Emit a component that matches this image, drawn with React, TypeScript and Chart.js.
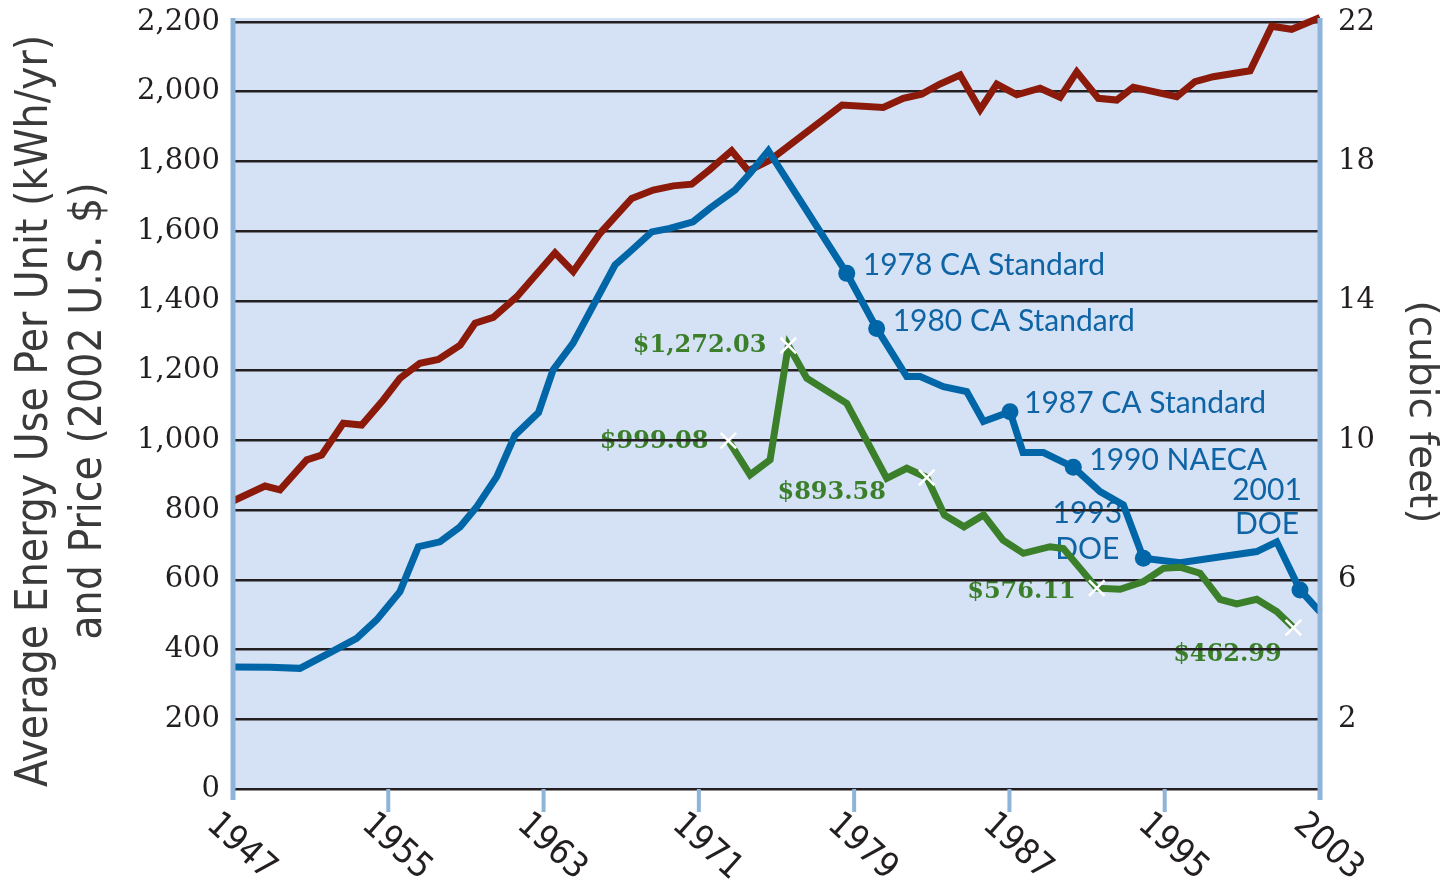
import React, { useEffect, useRef } from 'react';
import { Chart, registerables } from 'chart.js';

Chart.register(...registerables);

// Refrigerator size (cubic feet, right axis)
const sizeYears = [1947, 1948.65, 1949.42, 1950.8, 1951.57, 1952.68, 1953.63, 1954.74, 1955.6, 1956.63, 1957.58, 1958.7, 1959.47, 1960.41, 1961.62, 1963.59, 1964.53, 1965.91, 1967.54, 1968.65, 1969.68, 1970.63, 1971.57, 1972.69, 1973.55, 1974.67, 1978.38, 1980.5, 1981.53, 1982.48, 1983.42, 1984.46, 1985.49, 1986.35, 1987.38, 1988.58, 1989.61, 1990.47, 1991.58, 1992.53, 1993.38, 1995.62, 1996.56, 1997.5, 1999.4, 2000.51, 2001.54, 2003];
const sizeCubicFeet = [8.26, 8.69, 8.58, 9.44, 9.58, 10.49, 10.44, 11.16, 11.78, 12.21, 12.32, 12.73, 13.36, 13.53, 14.12, 15.38, 14.84, 15.94, 16.94, 17.18, 17.3, 17.35, 17.77, 18.31, 17.73, 18.04, 19.62, 19.55, 19.81, 19.93, 20.22, 20.48, 19.49, 20.22, 19.91, 20.1, 19.84, 20.57, 19.81, 19.76, 20.13, 19.86, 20.29, 20.43, 20.6, 21.88, 21.79, 22.13];

// Average energy use per unit (kWh/yr)
const useYears = [1947, 1948.91, 1950.45, 1952.0, 1953.37, 1954.4, 1955.6, 1956.55, 1957.66, 1958.7, 1959.56, 1960.59, 1961.53, 1962.74, 1963.49, 1964.52, 1966.68, 1967.45, 1968.57, 1969.5, 1970.7, 1971.57, 1972.86, 1973.64, 1974.58, 1978.62, 1980.16, 1981.71, 1982.4, 1983.6, 1984.8, 1985.66, 1987.03, 1987.7, 1988.75, 1990.29, 1991.67, 1992.87, 1993.9, 1995.79, 1999.74, 2000.77, 2001.97, 2003];
const energyUse = [350, 349, 346, 391, 432, 485, 566, 695, 709, 752, 810, 896, 1015, 1080, 1202, 1279, 1503, 1541, 1598, 1608, 1627, 1666, 1718, 1766, 1831, 1479, 1321, 1183, 1183, 1154, 1140, 1054, 1082, 965, 965, 923, 853, 815, 662, 649, 681, 709, 571, 508];

// Price (2002 U.S. $)
const priceYears = [1972.52, 1973.64, 1974.67, 1975.61, 1976.56, 1978.62, 1980.68, 1981.71, 1982.74, 1983.65, 1984.66, 1985.67, 1986.67, 1987.72, 1989.09, 1989.78, 1991.5, 1992.7, 1993.9, 1994.93, 1995.79, 1996.82, 1997.85, 1998.71, 1999.74, 2000.77, 2001.63];
const priceUsd = [999.08, 901, 944, 1272.03, 1178, 1106, 891, 920, 893.58, 786, 752, 786, 714, 676, 695, 690, 576.11, 573, 595, 633, 636, 619, 544, 531, 544, 509, 462.99];

const standardYears = [1978.62, 1980.16, 1987.03, 1990.29, 1993.9, 2001.97];
const standardLabels = ['1978 CA Standard', '1980 CA Standard', '1987 CA Standard', '1990 NAECA', '1993\nDOE', '2001\nDOE'];
const priceLabelYears = [1972.52, 1975.61, 1982.74, 1991.5, 2001.63];
const priceLabels = ['$999.08', '$1,272.03', '$893.58', '$576.11', '$462.99'];

const yearTicks = [1947, 1955, 1963, 1971, 1979, 1987, 1995, 2003];
const rightTicks = [2, 6, 10, 14, 18, 22];
const leftTitle = ['Average Energy Use Per Unit (kWh/yr)', 'and Price (2002 U.S. $)'];
const rightTitle = '(cubic feet)';

const RED = '#8B1A0A';
const BLUE = '#0066A8';
const GREEN = '#3B7F2B';
const BG = '#D5E2F5';
const AXIS_BLUE = '#8FB4D9';
const INK = '#231f20';

const STANDARD_LAYOUT = [
  { dx: 16, dy: -8, align: 'left', lh: 0 },
  { dx: 16, dy: -7, align: 'left', lh: 0 },
  { dx: 14, dy: -8, align: 'left', lh: 0 },
  { dx: 16, dy: -7, align: 'left', lh: 0 },
  { dx: -56, dy: -45, align: 'center', lh: 36 },
  { dx: -33, dy: -100, align: 'center', lh: 34 },
];
const PRICE_LAYOUT = [
  { dx: -20, dy: 1, align: 'right' },
  { dx: -22, dy: 0, align: 'right' },
  { dx: -95, dy: 15, align: 'center' },
  { dx: -21, dy: 4, align: 'right' },
  { dx: -66, dy: 27, align: 'center' },
];

const decorPlugin = {
  id: 'decor',
  beforeDraw(chart: any) {
    const { ctx, chartArea: a, scales } = chart;
    ctx.save();
    ctx.fillStyle = BG;
    ctx.fillRect(a.left, a.top - 4, a.right - a.left, a.bottom - a.top + 4);

    // annotation labels (beneath gridlines and lines)
    const xs = scales.x;
    const ys = scales.y;
    ctx.textBaseline = 'middle';
    ctx.fillStyle = '#0E64A5';
    ctx.font = '30px Lato, "Open Sans", sans-serif';
    standardYears.forEach((yr, i) => {
      const idx = useYears.indexOf(yr);
      const px = xs.getPixelForValue(yr);
      const py = ys.getPixelForValue(energyUse[idx]);
      const L = STANDARD_LAYOUT[i];
      ctx.textAlign = L.align;
      standardLabels[i].split('\n').forEach((line, j) => {
        ctx.fillText(line, px + L.dx, py + L.dy + j * L.lh);
      });
    });
    ctx.fillStyle = GREEN;
    ctx.font = 'bold 24px "DejaVu Serif", serif';
    priceLabelYears.forEach((yr, i) => {
      const idx = priceYears.indexOf(yr);
      const px = xs.getPixelForValue(yr);
      const py = ys.getPixelForValue(priceUsd[idx]);
      const L = PRICE_LAYOUT[i];
      ctx.textAlign = L.align;
      ctx.fillText(priceLabels[i], px + L.dx, py + L.dy);
    });
    ctx.restore();
  },
  afterDraw(chart: any) {
    const { ctx, chartArea: a, scales } = chart;
    const xs = scales.x;
    ctx.save();
    // side axis lines
    ctx.strokeStyle = AXIS_BLUE;
    ctx.lineWidth = 5;
    ctx.beginPath();
    ctx.moveTo(a.left, a.top - 4);
    ctx.lineTo(a.left, a.bottom + 11);
    ctx.moveTo(a.right, a.top - 4);
    ctx.lineTo(a.right, a.bottom + 11);
    ctx.stroke();
    // x ticks
    ctx.lineWidth = 4;
    ctx.beginPath();
    yearTicks.slice(1, -1).forEach((yr) => {
      const px = xs.getPixelForValue(yr);
      ctx.moveTo(px, a.bottom);
      ctx.lineTo(px, a.bottom + 23);
    });
    ctx.stroke();
    // x labels rotated clockwise
    ctx.fillStyle = INK;
    ctx.font = '35px "DejaVu Sans Condensed", "DejaVu Sans", sans-serif';
    ctx.textAlign = 'center';
    ctx.textBaseline = 'middle';
    yearTicks.forEach((yr) => {
      const px = xs.getPixelForValue(yr);
      ctx.save();
      ctx.translate(px + 8, a.bottom + 58);
      ctx.rotate((42 * Math.PI) / 180);
      ctx.fillText(String(yr), 0, 0);
      ctx.restore();
    });
    // left title
    ctx.fillStyle = '#3a3a3a';
    ctx.font = '44px "DejaVu Sans Condensed", "DejaVu Sans", sans-serif';
    const cy = 411;
    [36, 90].forEach((cx, i) => {
      ctx.save();
      ctx.translate(cx, cy);
      ctx.rotate(-Math.PI / 2);
      ctx.fillText(leftTitle[i], 0, 0);
      ctx.restore();
    });
    // right title
    ctx.font = '39px "DejaVu Sans", sans-serif';
    ctx.save();
    ctx.translate(1420, 412);
    ctx.rotate(Math.PI / 2);
    ctx.fillText(rightTitle, 0, 0);
    ctx.restore();
    ctx.restore();
  },
};

export default function App() {
  const canvasRef = useRef<HTMLCanvasElement | null>(null);

  useEffect(() => {
    document.body.style.margin = '0';
    const canvas = canvasRef.current;
    if (!canvas) return;
    const chart = new Chart(canvas, {
      type: 'line',
      data: {
        datasets: [
          {
            label: 'Price',
            data: priceYears.map((x, i) => ({ x, y: priceUsd[i] })),
            borderColor: GREEN,
            borderWidth: 7,
            tension: 0,
            yAxisID: 'y',
            clip: false,
            pointStyle: 'crossRot',
            pointRadius: (c: any) => (priceLabelYears.includes(priceYears[c.dataIndex]) ? 11 : 0),
            pointBorderColor: '#ffffff',
            pointBorderWidth: 2.5,
            pointHoverRadius: 0,
          },
          {
            label: 'Energy use',
            data: useYears.map((x, i) => ({ x, y: energyUse[i] })),
            borderColor: BLUE,
            borderWidth: 7,
            tension: 0,
            yAxisID: 'y',
            clip: false,
            pointStyle: 'circle',
            pointRadius: (c: any) => (standardYears.includes(useYears[c.dataIndex]) ? 8.5 : 0),
            pointBackgroundColor: BLUE,
            pointBorderWidth: 0,
            pointHoverRadius: 0,
          },
          {
            label: 'Size',
            data: sizeYears.map((x, i) => ({ x, y: sizeCubicFeet[i] })),
            borderColor: RED,
            borderWidth: 7,
            tension: 0,
            yAxisID: 'y1',
            clip: false,
            pointRadius: 0,
            pointHoverRadius: 0,
          },
        ],
      },
      options: {
        responsive: false,
        animation: false,
        devicePixelRatio: 1,
        events: [],
        layout: { padding: { top: 22, bottom: 0, left: 0, right: 0 } },
        plugins: { legend: { display: false }, tooltip: { enabled: false } },
        scales: {
          x: {
            type: 'linear',
            min: 1947,
            max: 2003,
            ticks: { display: false },
            grid: { display: false },
            border: { display: false },
            afterFit: (s: any) => {
              s.height = 94;
              s.paddingLeft = 0;
              s.paddingRight = 0;
            },
          },
          y: {
            type: 'linear',
            position: 'left',
            min: 0,
            max: 2200,
            ticks: {
              stepSize: 200,
              padding: 13,
              color: INK,
              font: { family: '"DejaVu Serif", serif', size: 29 },
              callback: (v: any) => Number(v).toLocaleString('en-US'),
            },
            grid: { color: INK, lineWidth: 2.5, drawTicks: false },
            border: { display: false },
            afterFit: (s: any) => {
              s.width = 233;
              s.paddingTop = 0;
              s.paddingBottom = 0;
            },
          },
          y1: {
            type: 'linear',
            position: 'right',
            min: 0,
            max: 22,
            afterBuildTicks: (s: any) => {
              s.ticks = rightTicks.map((v) => ({ value: v }));
            },
            ticks: {
              padding: 18,
              color: INK,
              font: { family: '"DejaVu Serif", serif', size: 29 },
            },
            grid: { display: false, drawTicks: false },
            border: { display: false },
            afterFit: (s: any) => {
              s.width = 129;
              s.paddingTop = 0;
              s.paddingBottom = 0;
            },
          },
        },
      },
      plugins: [decorPlugin],
    } as any);
    return () => chart.destroy();
  }, []);

  return (
    <div style={{ width: 1449, height: 883, background: '#ffffff' }}>
      <canvas ref={canvasRef} width={1449} height={883} />
    </div>
  );
}
